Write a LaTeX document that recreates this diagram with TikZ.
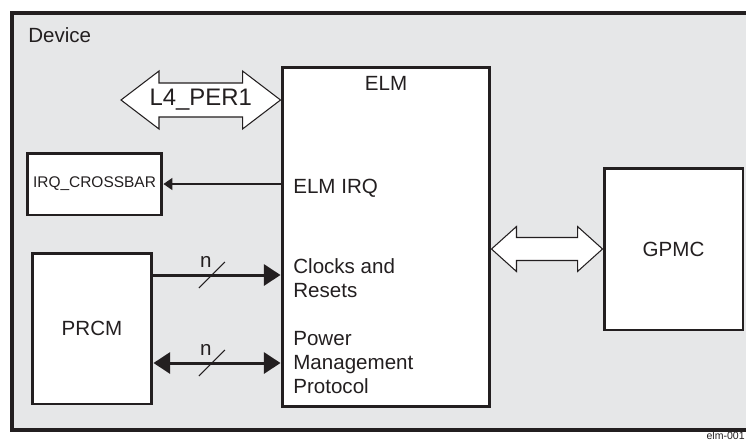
\documentclass[tikz,border=0pt]{standalone}
\usepackage{fontspec}
\setmainfont{Liberation Sans}
\usetikzlibrary{positioning,calc,arrows.meta}
\definecolor{devgray}{HTML}{E6E7E8}
\definecolor{ink}{HTML}{231F20}

\begin{document}
\begin{tikzpicture}[x=0.02cm,y=-0.02cm,
                    every node/.style={text=ink,font=\fontsize{11.7}{13.6}\selectfont},
                    blk/.style={draw=ink,fill=white,line width=1.7pt,inner sep=0pt},
                    bus/.style={draw=ink,fill=white,line width=0.6pt,line join=miter},
                    sig/.style={draw=ink,line width=1.7pt},
                    lbl/.style={inner sep=0pt}]
  \useasboundingbox (0,0) rectangle (746,440);
  \draw[ink,fill=devgray,line width=2.3pt] (12,13) rectangle (800,430);
  \node[lbl,anchor=base west] (dev) at (28,42) {Device};

  \node[blk,minimum width=4.16cm,minimum height=6.8cm] (elm) at (386,237) {};
  \node[lbl,anchor=base] (elmt) at (386,90) {ELM};
  \node[blk,minimum width=2.7cm,minimum height=1.24cm,
        font=\fontsize{8.8}{10}\selectfont] (irq) at (94.5,184) {IRQ\_CROSSBAR};
  \node[blk,minimum width=2.4cm,minimum height=3.02cm] (prcm) at (92,328.5) {PRCM};
  \node[blk,minimum width=2.78cm,minimum height=3.24cm] (gpmc) at (673.5,249) {GPMC};

  % ports inside ELM
  \node[lbl,anchor=base west] (irqp) at (293,193) {ELM IRQ};
  \node[lbl,anchor=north west,align=left] (clk) at (293,258) {Clocks and\\Resets};
  \node[lbl,anchor=north west,align=left] (pwr) at (293,331) {Power\\Management\\Protocol};

  % buses
  \coordinate (l4end) at (121,100);
  \draw[bus] (l4end) -- ++(38,-29) -- ++(0,12) -- ($(elm.west |- l4end)+(-38,-17)$) -- ++(0,-12)
    -- (elm.west |- l4end) -- ++(-38,29) -- ++(0,-12) -- ($(l4end)+(38,17)$) -- ++(0,12) -- cycle;
  \node[font=\fontsize{13.6}{15}\selectfont] (l4) at ($(l4end)!0.5!(elm.west |- l4end)$) {L4\_PER1};
  \draw[bus] (elm.east |- gpmc.west) -- ++(25,-22.5) -- ++(0,11) -- ($(gpmc.west)+(-25,-11.5)$) -- ++(0,-11)
    -- (gpmc.west) -- ++(-25,22.5) -- ++(0,-11) -- ($(elm.east |- gpmc.west)+(25,11.5)$) -- ++(0,11) -- cycle;

  % signals
  \draw[ink,line width=0.6pt,-{Triangle[length=5pt,width=6.8pt]}] (elm.west |- irq.east) -- (irq.east);
  \draw[sig,-{Triangle[length=9.5pt,width=12pt]}] (prcm.east |- 0,275) -- coordinate[pos=0.46] (m1) (elm.west |- 0,275);
  \draw[sig,{Triangle[length=9.5pt,width=12pt]}-{Triangle[length=9.5pt,width=12pt]}] (prcm.east |- 0,363) -- coordinate[pos=0.46] (m2) (elm.west |- 0,363);
  \draw[ink,line width=0.6pt] (m1) ++(-13,13) -- ++(26,-26);
  \draw[ink,line width=0.6pt] (m2) ++(-13,13) -- ++(26,-26);
  \node (n1) at ($(m1)+(-6,-13)$) {n};
  \node (n2) at ($(m2)+(-6,-13)$) {n};

  \node[lbl,anchor=south east,font=\fontsize{6}{7}\selectfont] (fig) at (745,439.5) {elm-001};
\end{tikzpicture}
\end{document}
